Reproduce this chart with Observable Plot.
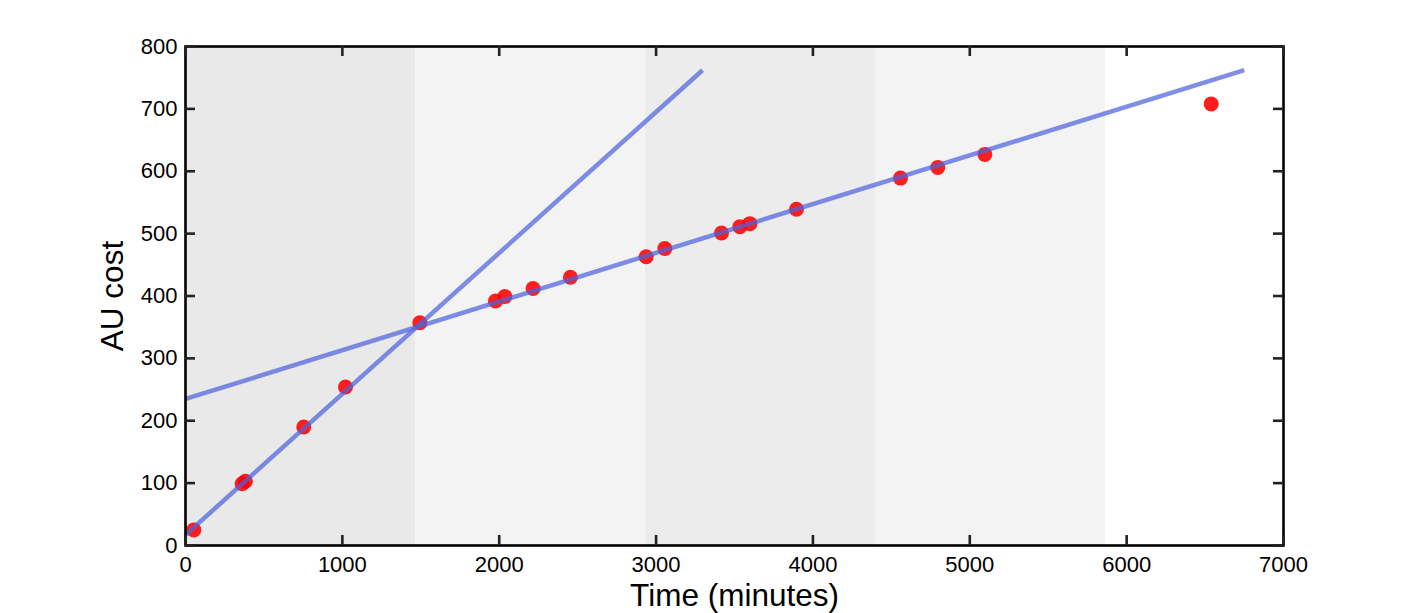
<!DOCTYPE html>
<html>
<head>
<meta charset="utf-8">
<script src="https://cdn.jsdelivr.net/npm/d3@7"></script>
<script src="https://cdn.jsdelivr.net/npm/@observablehq/plot@0.6"></script>
<style>
  html, body { margin: 0; padding: 0; background: #fff; }
  #chart svg { display: block; }
</style>
</head>
<body>
<div id="chart"></div>
<script>
// ---- data ----
const timeMinutes = [53, 361, 382, 754, 1020, 1494, 1976, 2036, 2216, 2454, 2937, 3056, 3417, 3534, 3598, 3895, 4558, 4796, 5096, 6539];
const auCost      = [25, 99, 103, 190, 254, 357, 392, 399, 412, 430, 463, 476, 501, 511, 516, 539, 589, 606, 627, 708];

// fitted lines (start / end points)
const fitStartX = [0, 0];
const fitStartY = [17, 235];
const fitEndX   = [3296, 6750];
const fitEndY   = [762, 762];

// shaded background periods (minutes)
const periodStart = [0, 1466, 2932, 4399];
const periodEnd   = [1466, 2932, 4399, 5865];

const xTicks = [0, 1000, 2000, 3000, 4000, 5000, 6000, 7000];
const yTicks = [0, 100, 200, 300, 400, 500, 600, 700, 800];
const xTitle = "Time (minutes)";
const yTitle = "AU cost";

// ---- tables built from the arrays ----
const points = timeMinutes.map((t, i) => ({t, c: auCost[i]}));
const fits = fitStartX.map((x, i) => ({x1: x, y1: fitStartY[i], x2: fitEndX[i], y2: fitEndY[i]}));
const periods = periodStart.map((s, i) => ({s, e: periodEnd[i], i}));
const periodShades = ["#e9e9e9", "#f3f3f3", "#ececec", "#f3f3f3"];
const plain = d => String(d);

const chart = Plot.plot({
  width: 1417,
  height: 613,
  marginLeft: 185,
  marginRight: 134,
  marginTop: 46,
  marginBottom: 68,
  style: {fontFamily: "'Liberation Sans', Arial, Helvetica, sans-serif", fontSize: "22px", color: "#000", background: "#fff"},
  x: {domain: [0, 7000]},
  y: {domain: [0, 800]},
  marks: [
    Plot.rect(periods, {x1: "s", x2: "e", y1: 0, y2: 800, fill: d => periodShades[d.i]}),
    Plot.dot(points, {x: "t", y: "c", r: 7.5, fill: "#ff0000", fillOpacity: 0.88, stroke: "none"}),
    Plot.link(fits, {x1: "x1", y1: "y1", x2: "x2", y2: "y2", stroke: "rgb(78,98,222)", strokeOpacity: 0.72, strokeWidth: 4.5, strokeLinecap: "butt"}),
    Plot.frame({stroke: "#000", strokeWidth: 2.6}),
    // inward ticks, bottom and top
    Plot.ruleX(xTicks, {x: d => d, y1: 0, y2: 0, insetTop: -10, stroke: "#222", strokeWidth: 2.6}),
    Plot.ruleX(xTicks, {x: d => d, y1: 800, y2: 800, insetBottom: -10, stroke: "#222", strokeWidth: 2.6}),
    // inward ticks, left and right
    Plot.ruleY(yTicks, {y: d => d, x1: 0, x2: 0, insetRight: -10, stroke: "#222", strokeWidth: 2.6}),
    Plot.ruleY(yTicks, {y: d => d, x1: 7000, x2: 7000, insetLeft: -10, stroke: "#222", strokeWidth: 2.6}),
    Plot.axisX(xTicks, {anchor: "bottom", tickSize: 0, tickPadding: 11, tickFormat: plain, label: null, fontSize: 22, fill: "#000"}),
    Plot.axisY(yTicks, {anchor: "left", tickSize: 0, tickPadding: 8, tickFormat: plain, label: null, fontSize: 22, fill: "#000"}),
    Plot.text([xTitle], {frameAnchor: "bottom", dy: 60, textAnchor: "middle", lineAnchor: "bottom", text: d => d, fontSize: 31.5, fill: "#000"}),
    Plot.text([yTitle], {frameAnchor: "left", dx: -63, rotate: -90, textAnchor: "middle", lineAnchor: "bottom", text: d => d, fontSize: 31.5, fill: "#000"})
  ]
});
document.getElementById("chart").appendChild(chart);
</script>
</body>
</html>
